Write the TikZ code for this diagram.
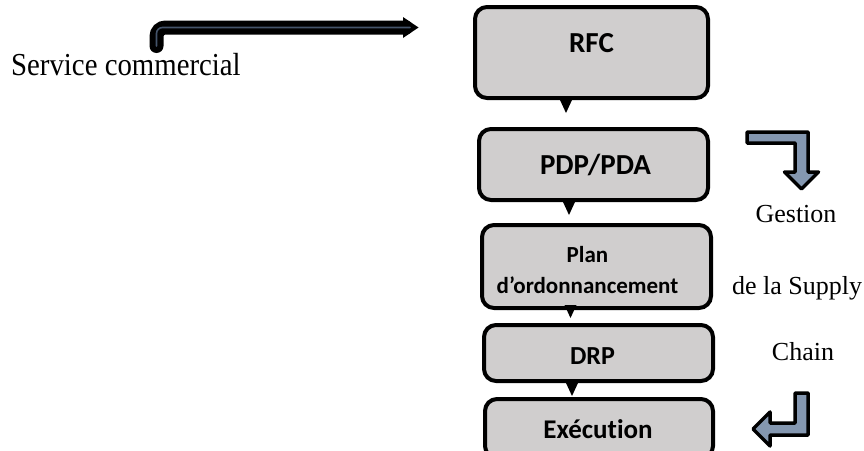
\documentclass[tikz,border=0pt]{standalone}
\usepackage{fontspec}
\setmainfont{Liberation Serif}
\newfontfamily\boxfont[Ligatures=NoCommon]{Carlito}
\usetikzlibrary{calc}
\definecolor{boxgray}{HTML}{D0CECE}
\definecolor{bluegray}{HTML}{8497B0}
\definecolor{slategray}{HTML}{44546A}

\tikzset{
  stepbox/.style={draw=black, line width=4pt, fill=boxgray, rounded corners=12pt,
    inner sep=0pt, minimum width=229pt},
  boxlabel/.style={inner sep=0pt, align=center, text=black},
  sidetext/.style={inner sep=0pt, anchor=base, font=\fontsize{26}{30}\selectfont},
  bentarrow/.style={draw=black, line width=3.5pt, fill=bluegray, line join=round},
  downtip/.pic={\fill[black] (-6,0) -- (6,0) -- (0,13) -- cycle;}
}

\begin{document}
\begin{tikzpicture}[x=1pt,y=-1pt]
  \useasboundingbox (0,0) rectangle (864,450);
  \clip (0,0) rectangle (864,450);

  % planning steps
  \node[stepbox, minimum width=233pt, minimum height=91pt] (rfc)  at (591.5,52.5) {};
  \node[stepbox, minimum height=71pt] (pdp)  at (593.5,164.5) {};
  \node[stepbox, minimum height=83pt] (plan) at (596.5,266.5) {};
  \node[stepbox, minimum height=56pt] (drp)  at (598.5,353) {};
  \node[stepbox, minimum width=228pt, minimum height=59pt] (exec) at (599,428.5) {};

  % step labels
  \node[boxlabel, yshift=9pt, font=\boxfont\bfseries\fontsize{29}{32}\selectfont] (rfc-t) at (rfc.center) {RFC};
  \node[boxlabel, xshift=2pt, font=\boxfont\bfseries\fontsize{29}{32}\selectfont] (pdp-t) at (pdp.center) {PDP/PDA};
  \node[boxlabel, xshift=-9pt, yshift=-4pt, font=\boxfont\bfseries\fontsize{23}{31}\selectfont] (plan-t) at (plan.center) {Plan\\d’ordonnancement};
  \node[boxlabel, xshift=-6pt, yshift=-3pt, font=\boxfont\bfseries\fontsize{26}{30}\selectfont] (drp-t) at (drp.center) {DRP};
  \node[boxlabel, xshift=-1pt, yshift=-1pt, font=\boxfont\bfseries\fontsize{27}{30}\selectfont] (exec-t) at (exec.center) {Exécution};

  % links between steps
  \pic at ([xshift=-25.5pt]rfc.south) {downtip};
  \pic at ([xshift=-24.5pt]pdp.south) {downtip};
  \pic at ([xshift=-26pt,yshift=5pt]plan.south) {downtip};
  \pic at ([xshift=-26.5pt]drp.south) {downtip};

  % sales department and its feed arrow
  \node[inner sep=0pt, anchor=base west, xscale=0.9, font=\fontsize{32}{36}\selectfont] (sales) at (11,75) {Service commercial};
  \coordinate (feed-start) at (156.5,46);
  \coordinate (feed-corner) at (156.5,27.5);
  \coordinate (feed-end) at (406,27.5);
  \draw[line width=14pt, line cap=round, rounded corners=9pt] (feed-start) -- (feed-corner) -- (feed-end);
  \fill[black, line join=round] ($(feed-end)+(-3,-10.5)$) -- ($(feed-end)+(12.5,0)$) -- ($(feed-end)+(-3,10.5)$) -- cycle;
  \draw[slategray, line width=1.6pt, line cap=round, rounded corners=6pt] (feed-start) -- (feed-corner) -- ($(feed-end)+(4,0)$);

  % supply chain management side
  \node[sidetext] (gestion) at (796,222) {Gestion};
  \node[sidetext] (supply) at (797,294) {de la Supply};
  \node[sidetext] (chain) at (803,360) {Chain};

  \draw[bentarrow] (747,132) -- (808,132) -- (808,172) -- (818.5,172) -- (801.5,189)
    -- (784.5,172) -- (795,172) -- (795,143) -- (747,143) -- cycle;
  \draw[bentarrow] (795,393) -- (808,393) -- (808,435) -- (770,435) -- (770,446)
    -- (753,429) -- (770,412) -- (770,423) -- (795,423) -- cycle;
\end{tikzpicture}
\end{document}
